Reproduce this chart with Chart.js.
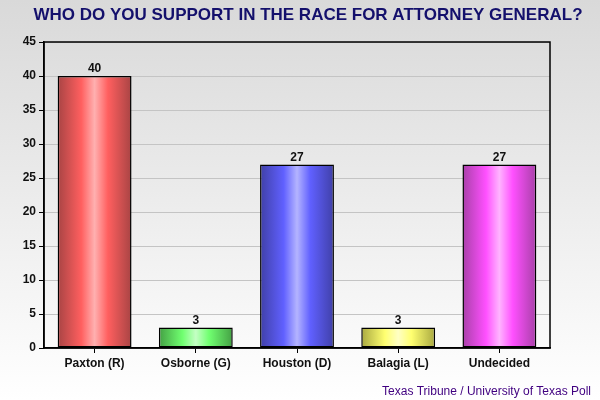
<!DOCTYPE html>
<html>
<head>
<meta charset="utf-8">
<script src="https://cdn.jsdelivr.net/npm/chart.js@4.4.0/dist/chart.umd.min.js"></script>
<style>
  html, body { margin: 0; padding: 0; background: #fff; }
  #box { width: 600px; height: 400px; }
</style>
</head>
<body>
<div id="box"><canvas id="myChart" width="600" height="400"></canvas></div>
<script>
const categories = ["Paxton (R)", "Osborne (G)", "Houston (D)", "Balagia (L)", "Undecided"];
const support = [40, 3, 27, 3, 27];
const yTicks = [0, 5, 10, 15, 20, 25, 30, 35, 40, 45];

const titleText = "WHO DO YOU SUPPORT IN THE RACE FOR ATTORNEY GENERAL?";
const sourceText = "Texas Tribune / University of Texas Poll";

/* dark edge, main colour, light centre */
const palette = [
  ["#a84444", "#ff5f5f", "#ffb0b0"],
  ["#44a044", "#70ff70", "#c4ffc4"],
  ["#4040a8", "#6060ff", "#b4b4ff"],
  ["#a8a840", "#ffff70", "#ffffc4"],
  ["#a840a8", "#ff50ff", "#ffb4ff"],
];

const FONT = "'Liberation Sans', Arial, sans-serif";

/* page background + plot box + texts */
const decor = {
  id: "decor",
  beforeDraw(chart) {
    const { ctx, width, height } = chart;
    ctx.save();
    const g = ctx.createLinearGradient(0, 0, 0, height);
    g.addColorStop(0, "#d9d9d9");
    g.addColorStop(1, "#ffffff");
    ctx.fillStyle = g;
    ctx.fillRect(0, 0, width, height);
    ctx.restore();
  },
  beforeDatasetsDraw(chart) {
    /* horizontal shine on each bar (options object is shared, so copy it) */
    const meta = chart.getDatasetMeta(0);
    meta.data.forEach((bar, i) => {
      const c = palette[i % palette.length];
      const l = bar.x - bar.width / 2;
      const r = bar.x + bar.width / 2;
      const g = chart.ctx.createLinearGradient(l, 0, r, 0);
      g.addColorStop(0, c[0]);
      g.addColorStop(0.32, c[1]);
      g.addColorStop(0.5, c[2]);
      g.addColorStop(0.68, c[1]);
      g.addColorStop(1, c[0]);
      bar.options = Object.assign({}, bar.options, { backgroundColor: g });
    });
  },
  afterDatasetsDraw(chart) {
    const { ctx, chartArea: a } = chart;
    ctx.save();
    /* box round the plot */
    ctx.strokeStyle = "#000";
    ctx.lineWidth = 1.5;
    ctx.strokeRect(a.left, a.top, a.right - a.left, a.bottom - a.top);

    /* values above bars */
    const meta = chart.getDatasetMeta(0);
    ctx.font = "bold 12px " + FONT;
    ctx.fillStyle = "#111";
    ctx.textAlign = "center";
    ctx.textBaseline = "bottom";
    meta.data.forEach((bar, i) => {
      ctx.fillText(String(support[i]), bar.x, bar.y - 1);
    });

    /* title */
    ctx.font = "bold 17px " + FONT;
    ctx.fillStyle = "#14106c";
    ctx.textBaseline = "middle";
    ctx.fillText(titleText, 308, 15);

    /* source */
    ctx.font = "12px " + FONT;
    ctx.fillStyle = "#400080";
    ctx.textAlign = "right";
    ctx.fillText(sourceText, 591, 392);
    ctx.restore();
  },
};

const canvas = document.getElementById("myChart");
new Chart(canvas.getContext("2d"), {
  type: "bar",
  data: {
    labels: categories,
    datasets: [
      {
        data: support,
        borderColor: "#000",
        borderWidth: 1.5,
        borderSkipped: false,
        barPercentage: 0.73,
        categoryPercentage: 1,
      },
    ],
  },
  options: {
    responsive: false,
    animation: false,
    devicePixelRatio: 1,
    layout: { padding: { top: 42, right: 50, bottom: 0, left: 0 } },
    plugins: {
      legend: { display: false },
      tooltip: { enabled: false },
      title: { display: false },
    },
    scales: {
      x: {
        afterFit(scale) { scale.height = 52; },
        grid: {
          offset: false,
          drawOnChartArea: false,
          drawTicks: true,
          tickLength: 5,
          tickColor: "#000",
        },
        border: { color: "#000", width: 1.5 },
        ticks: {
          color: "#111",
          padding: 3,
          font: { family: FONT, size: 12, weight: "bold" },
        },
      },
      y: {
        min: 0,
        max: 45,
        afterFit(scale) { scale.width = 44; },
        afterBuildTicks(scale) {
          scale.ticks = yTicks.map((v) => ({ value: v }));
        },
        grid: {
          color: "#c4c4c4",
          lineWidth: 1,
          tickLength: 5,
          tickColor: "#000",
        },
        border: { color: "#000", width: 1.5 },
        ticks: {
          color: "#111",
          padding: 3,
          font: { family: FONT, size: 12, weight: "bold" },
        },
      },
    },
  },
  plugins: [decor],
});
</script>
</body>
</html>
